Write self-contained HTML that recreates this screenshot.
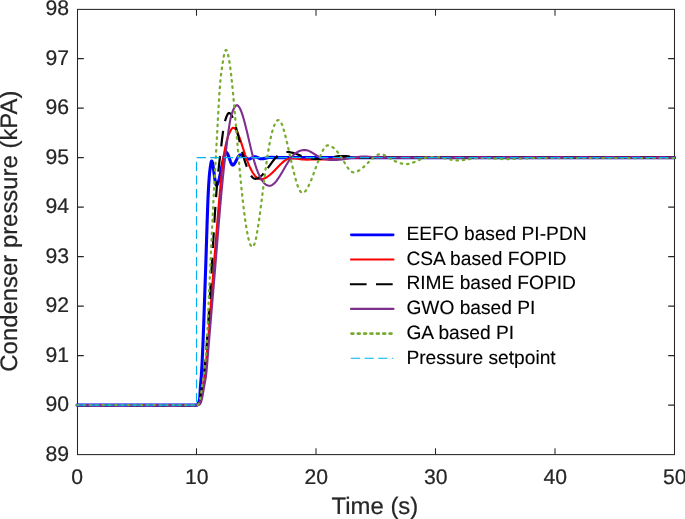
<!DOCTYPE html>
<html><head><meta charset="utf-8"><title>Condenser pressure response</title>
<style>
html,body{margin:0;padding:0;background:#fff;overflow:hidden;}
svg{display:block;will-change:transform;text-rendering:geometricPrecision;}
text{font-family:"Liberation Sans",Arial,Helvetica,sans-serif;}
</style></head>
<body>
<svg width="685" height="519" viewBox="0 0 685 519">
<rect width="685" height="519" fill="#ffffff"/>
<g fill="none" stroke="#262626" stroke-width="1.05">
<rect x="77.5" y="9.4" width="597.00" height="445.20"/>
<path d="M196.50,454.6 v-6.4 M196.50,9.4 v6.4"/>
<path d="M316.00,454.6 v-6.4 M316.00,9.4 v6.4"/>
<path d="M435.50,454.6 v-6.4 M435.50,9.4 v6.4"/>
<path d="M555.00,454.6 v-6.4 M555.00,9.4 v6.4"/>
<path d="M77.5,405.11 h6.3 M674.5,405.11 h-6.3"/>
<path d="M77.5,355.61 h6.3 M674.5,355.61 h-6.3"/>
<path d="M77.5,306.12 h6.3 M674.5,306.12 h-6.3"/>
<path d="M77.5,256.62 h6.3 M674.5,256.62 h-6.3"/>
<path d="M77.5,207.13 h6.3 M674.5,207.13 h-6.3"/>
<path d="M77.5,157.63 h6.3 M674.5,157.63 h-6.3"/>
<path d="M77.5,108.14 h6.3 M674.5,108.14 h-6.3"/>
<path d="M77.5,58.64 h6.3 M674.5,58.64 h-6.3"/>
</g>
<g fill="none" stroke-linejoin="round" stroke-linecap="butt">
<path d="M77.00,405.11 L197.10,405.11 L197.36,404.98 L197.64,404.60 L198.68,402.39 L199.06,401.41 L199.44,399.99 L199.74,398.29 L199.90,396.08 L200.30,388.50 L201.34,375.87 L202.00,364.65 L202.92,344.96 L203.78,322.64 L205.80,264.23 L207.22,219.56 L207.86,201.65 L208.26,192.63 L208.74,184.22 L209.24,176.87 L209.70,171.83 L210.48,165.90 L211.02,162.71 L211.26,161.75 L211.50,161.16 L211.60,161.04 L211.70,161.00 L211.95,161.20 L212.20,161.76 L212.45,162.65 L212.95,165.22 L213.45,168.57 L214.70,177.99 L215.45,182.63 L215.70,183.75 L215.95,184.58 L216.20,185.07 L216.45,185.20 L216.70,185.11 L216.95,184.91 L217.45,184.17 L217.95,183.05 L218.45,181.57 L219.20,178.83 L220.20,174.45 L222.70,162.33 L223.45,159.07 L223.95,157.15 L224.70,154.79 L225.20,153.62 L225.70,152.85 L225.95,152.62 L226.20,152.51 L226.45,152.52 L226.70,152.64 L226.95,152.86 L227.20,153.18 L227.70,154.05 L228.45,155.81 L230.45,161.52 L231.20,163.35 L231.70,164.27 L231.95,164.62 L232.20,164.88 L232.45,165.04 L232.70,165.10 L232.95,165.07 L233.45,164.82 L233.95,164.36 L234.45,163.73 L235.45,162.06 L237.45,158.13 L238.45,156.42 L238.95,155.75 L239.45,155.25 L239.95,154.96 L240.20,154.91 L240.70,154.93 L241.20,155.02 L242.20,155.40 L243.45,156.12 L245.70,157.68 L246.70,158.29 L247.45,158.66 L247.95,158.84 L248.45,158.95 L248.95,159.00 L249.45,158.96 L250.20,158.76 L250.95,158.44 L252.70,157.49 L253.45,157.13 L254.20,156.89 L254.95,156.80 L255.45,156.84 L256.20,157.01 L257.20,157.39 L259.70,158.49 L260.45,158.70 L261.20,158.80 L262.20,158.76 L263.20,158.63 L267.70,157.64 L268.95,157.46 L269.95,157.40 L279.95,157.63 L674.50,157.63" stroke-linecap="round" stroke="#0000ff" stroke-width="3.1"/>
<path d="M77.00,405.11 L197.12,405.11 L197.62,405.02 L198.16,404.77 L198.76,404.32 L199.22,403.83 L199.44,403.33 L199.68,402.57 L200.40,399.72 L201.28,395.10 L202.36,389.83 L203.10,385.38 L204.00,378.92 L205.04,370.55 L205.98,362.13 L206.94,352.70 L207.92,342.08 L208.98,329.31 L213.00,276.31 L217.90,215.15 L219.30,198.81 L221.44,175.23 L222.18,167.55 L222.80,161.95 L223.50,157.03 L224.24,152.72 L224.98,148.76 L226.20,143.03 L226.80,140.60 L227.40,138.43 L228.02,136.47 L228.62,134.87 L230.48,130.92 L231.16,129.69 L231.78,128.77 L232.34,128.15 L232.88,127.79 L233.30,127.70 L233.55,127.72 L234.05,127.88 L234.55,128.19 L235.30,128.91 L235.80,129.55 L236.55,130.75 L237.05,131.68 L237.80,133.26 L239.05,136.32 L240.30,139.80 L241.55,143.56 L245.05,154.53 L247.05,160.27 L248.30,163.50 L249.30,165.88 L250.55,168.58 L251.55,170.54 L252.80,172.71 L253.80,174.23 L255.05,175.85 L256.05,176.92 L257.30,177.98 L258.30,178.59 L259.30,178.99 L260.30,179.18 L261.05,179.19 L262.05,179.09 L262.80,178.93 L263.80,178.63 L264.80,178.23 L265.80,177.73 L266.80,177.15 L267.80,176.49 L268.80,175.75 L270.05,174.75 L272.30,172.73 L274.80,170.27 L280.80,164.10 L282.30,162.67 L283.80,161.38 L285.55,160.10 L287.05,159.25 L287.80,158.92 L288.55,158.67 L289.30,158.50 L290.05,158.41 L292.05,158.43 L294.30,158.55 L297.05,158.81 L302.05,159.44 L304.05,159.56 L306.30,159.59 L312.55,159.46 L322.55,159.36 L332.55,159.12 L339.30,158.79 L348.30,158.11 L351.80,157.90 L356.30,157.71 L361.05,157.64 L674.50,157.63" stroke="#ff0000" stroke-width="2.1" stroke-linecap="round"/>
<path d="M77.00,405.11 L197.10,405.11 L197.54,404.98 L198.12,404.58 L198.38,404.28 L198.66,403.79 L199.14,402.74 L199.58,401.43 L200.08,399.55 L200.48,397.70 L200.88,395.19 L201.80,388.50 L203.34,378.45 L204.04,373.03 L204.78,366.35 L205.52,358.81 L206.30,350.00 L207.28,337.24 L208.42,320.11 L212.18,259.11 L214.44,221.23 L215.40,206.18 L216.02,197.37 L216.60,190.00 L217.38,181.21 L218.22,172.67 L219.28,162.94 L222.10,138.75 L223.06,131.31 L223.90,125.89 L224.36,123.49 L224.80,121.67 L225.56,119.31 L226.32,117.15 L227.00,115.47 L227.60,114.28 L228.16,113.48 L228.44,113.22 L228.70,113.06 L228.94,113.00 L229.25,113.02 L229.50,113.09 L230.00,113.37 L230.50,113.81 L231.25,114.78 L232.00,116.09 L232.75,117.70 L233.50,119.59 L234.25,121.73 L235.50,125.76 L237.00,131.19 L241.75,150.07 L243.50,156.59 L244.50,159.98 L245.50,163.12 L246.50,165.99 L247.50,168.60 L248.50,170.93 L249.50,172.97 L250.50,174.72 L251.50,176.17 L252.50,177.31 L253.00,177.76 L253.50,178.13 L254.00,178.42 L254.50,178.63 L255.25,178.79 L256.00,178.78 L256.75,178.65 L257.50,178.42 L258.50,177.96 L259.25,177.51 L260.25,176.78 L261.25,175.93 L262.25,174.95 L264.00,173.00 L265.75,170.82 L266.00,170.49" stroke="#000000" stroke-width="2.2" stroke-dasharray="15.7 9.8" stroke-dashoffset="-23.86"/>
<path d="M266.00,170.49 L267.50,168.48 L271.75,162.62 L273.75,160.02 L275.00,158.52 L276.00,157.42 L276.75,156.66 L277.75,155.75 L278.75,154.94 L279.75,154.24 L280.75,153.64 L282.00,153.03 L283.00,152.65 L284.00,152.36 L285.00,152.16 L286.25,152.02 L287.75,152.02 L289.50,152.17 L291.25,152.48 L293.00,152.91 L294.75,153.43 L296.50,154.03 L304.25,156.92 L306.25,157.56 L308.00,158.02 L310.00,158.44 L312.00,158.73 L314.00,158.91 L316.00,158.99 L317.75,158.99 L319.75,158.91 L320.00,158.89" stroke="#000000" stroke-width="2.2" stroke-dasharray="15.7 9.8" stroke-dashoffset="-3.03"/>
<path d="M320.00,158.89 L323.75,158.56 L328.25,157.93 L335.00,156.72 L337.25,156.37 L339.75,156.09 L342.00,156.00 L343.75,156.04 L345.75,156.18 L348.25,156.45 L355.50,157.38 L357.75,157.56 L359.75,157.63 L674.50,157.63" stroke="#000000" stroke-width="2.2" stroke-dasharray="15.7 9.8" stroke-dashoffset="-14.36"/>
<path d="M77.00,405.11 L197.18,405.10 L197.72,405.06 L198.30,404.96 L199.50,404.55 L199.74,404.36 L199.98,404.09 L200.58,403.16 L201.02,402.09 L201.50,400.52 L202.08,398.27 L202.50,396.23 L203.82,388.39 L205.50,379.16 L206.10,375.00 L206.52,371.23 L207.06,365.25 L208.14,351.89 L215.22,267.36 L218.74,223.98 L220.20,206.58 L221.36,193.61 L222.72,179.46 L223.82,168.72 L224.76,160.39 L227.22,140.70 L228.44,131.48 L229.60,123.72 L230.14,120.59 L230.66,117.93 L231.20,115.58 L231.72,113.78 L232.48,111.81 L233.46,109.50 L234.28,107.82 L235.02,106.58 L235.70,105.75 L236.04,105.47 L236.36,105.29 L236.70,105.20 L237.05,105.22 L237.30,105.29 L237.80,105.55 L238.55,106.24 L239.30,107.28 L240.05,108.64 L240.80,110.29 L241.55,112.21 L242.55,115.14 L244.05,120.22 L245.55,125.93 L247.05,132.09 L251.05,149.12 L252.30,154.18 L253.30,158.00 L254.30,161.57 L255.55,165.64 L256.55,168.59 L257.80,171.93 L259.05,174.88 L260.30,177.44 L261.55,179.64 L262.30,180.79 L263.05,181.81 L264.30,183.24 L265.05,183.94 L265.80,184.52 L266.55,185.00 L267.30,185.36 L268.05,185.61 L268.80,185.76 L269.80,185.79 L270.55,185.67 L271.30,185.42 L272.30,184.91 L273.30,184.21 L274.30,183.33 L275.30,182.28 L276.30,181.10 L278.05,178.72 L280.05,175.65 L281.80,172.75 L286.30,165.03 L288.80,161.01 L290.05,159.17 L291.05,157.83 L292.05,156.60 L293.30,155.24 L294.55,154.07 L295.80,153.08 L297.05,152.25 L298.30,151.57 L299.55,151.04 L301.05,150.57 L302.30,150.31 L303.80,150.14 L305.30,150.11 L306.55,150.25 L307.80,150.56 L309.30,151.13 L310.55,151.74 L312.05,152.58 L317.05,155.76 L318.80,156.81 L320.55,157.70 L322.55,158.50 L324.80,159.15 L327.05,159.57 L329.55,159.85 L332.55,159.98 L336.30,159.99 L339.05,159.82 L342.30,159.37 L350.05,157.92 L354.05,157.33 L356.80,157.02 L359.55,156.79 L362.05,156.66 L364.55,156.60 L366.80,156.62 L369.05,156.71 L380.05,157.47 L382.55,157.59 L384.80,157.63 L674.50,157.63" stroke="#7e2f8e" stroke-width="2.1" stroke-linecap="round"/>
<path d="M77.00,405.11 L197.12,405.11 L197.34,405.07 L197.60,404.95 L198.22,404.49 L198.58,403.94 L199.04,402.98 L199.42,401.94 L199.82,400.57 L200.30,398.60 L200.54,397.37 L200.92,394.91 L201.78,388.64 L203.48,377.44 L204.32,370.73 L205.06,364.04 L205.70,357.34 L206.28,350.26 L206.86,341.37 L207.50,329.06 L209.92,273.81 L213.56,198.49 L214.62,178.45 L216.36,147.77 L218.22,113.38 L219.32,94.88 L220.00,85.29 L220.62,78.30 L221.00,75.00 L222.48,64.16 L223.46,57.99 L223.90,55.65 L224.32,53.73 L224.72,52.23 L225.12,51.08 L225.50,50.36 L225.68,50.15 L225.86,50.03 L226.00,50.00 L226.25,50.07 L226.50,50.28 L226.75,50.62 L227.25,51.68 L227.75,53.24 L228.50,56.46 L229.00,59.14 L229.75,63.91 L230.50,69.50 L231.25,75.81 L232.50,87.71 L233.75,100.97 L235.25,118.09 L238.50,156.48 L240.50,178.50 L241.75,191.05 L242.75,200.36 L243.75,208.95 L244.75,216.80 L245.75,223.84 L246.75,230.04 L247.75,235.35 L248.50,238.72 L249.00,240.66 L249.50,242.36 L250.00,243.80 L250.50,244.98 L251.00,245.90 L251.50,246.54 L252.00,246.91 L252.25,246.99 L252.50,246.99 L252.75,246.91 L253.00,246.73 L253.50,246.10 L254.00,245.13 L254.75,243.07 L255.25,241.31 L256.00,238.16 L256.75,234.44 L257.50,230.22 L258.75,222.22 L260.25,211.39 L264.75,175.63 L266.50,162.48 L267.50,155.65 L268.25,150.92 L269.25,145.15 L270.25,140.00 L271.25,135.44 L272.25,131.49 L273.25,128.13 L274.25,125.36 L274.75,124.19 L275.25,123.17 L275.75,122.29 L276.25,121.55 L276.75,120.96 L277.25,120.51 L277.75,120.20 L278.25,120.03 L278.75,120.01 L279.25,120.18 L279.75,120.56 L280.50,121.50 L281.00,122.35 L281.75,123.94 L282.25,125.19 L283.00,127.33 L284.25,131.50 L285.75,137.30 L287.00,142.58 L290.25,156.98 L293.00,168.81 L294.75,175.85 L296.25,181.27 L297.25,184.46 L298.00,186.59 L298.75,188.45 L299.50,190.02 L300.25,191.28 L301.00,192.20 L301.50,192.61 L301.75,192.75 L302.25,192.89 L302.75,192.87 L303.50,192.65 L304.25,192.20 L305.00,191.55 L305.75,190.70 L306.50,189.67 L307.25,188.48 L308.00,187.14 L309.50,184.07 L311.25,179.93 L313.25,174.72 L317.00,164.41 L318.50,160.42 L320.25,156.06 L321.75,152.65 L322.50,151.11 L323.25,149.71 L324.00,148.47 L324.75,147.41 L325.50,146.55 L326.25,145.91 L327.00,145.52 L327.50,145.41 L328.50,145.45 L329.50,145.64 L330.50,145.98 L331.50,146.46 L332.50,147.07 L333.50,147.80 L334.50,148.66 L335.50,149.64 L336.50,150.73 L337.50,151.92 L338.50,153.21 L339.75,154.96 L341.75,158.04 L346.25,165.48 L347.50,167.37 L348.75,169.04 L350.00,170.44 L350.75,171.12 L351.25,171.50 L352.00,171.93 L352.50,172.13 L353.00,172.26 L353.50,172.30 L354.25,172.26 L355.00,172.15 L355.75,171.98 L356.50,171.74 L358.00,171.08 L359.75,170.04 L361.75,168.57 L363.75,166.87 L366.00,164.76 L371.50,159.37 L373.25,157.76 L374.50,156.73 L376.00,155.70 L377.50,154.91 L378.25,154.62 L379.00,154.41 L379.75,154.27 L380.50,154.20 L381.50,154.25 L382.50,154.45 L383.50,154.77 L384.50,155.20 L386.25,156.14 L390.25,158.57 L392.75,159.99 L395.25,161.26 L397.75,162.34 L400.00,163.12 L402.00,163.63 L404.00,163.97 L406.00,164.10 L407.25,164.06 L408.75,163.86 L410.25,163.53 L411.75,163.08 L414.50,162.04 L421.25,159.11 L423.00,158.45 L424.50,157.99 L425.75,157.68 L427.25,157.43 L428.75,157.29 L430.50,157.21 L433.50,157.20 L435.75,157.25 L438.00,157.38 L440.25,157.60 L442.00,157.85 L443.75,158.15 L450.50,159.55 L453.25,160.05 L456.00,160.39 L458.50,160.50 L460.50,160.42 L462.50,160.21 L465.00,159.82 L470.25,158.80 L472.50,158.42 L475.00,158.11 L477.25,158.00 L482.75,158.02 L486.50,158.11 L489.00,158.23 L499.00,158.90 L502.75,159.05 L506.00,159.10 L509.75,159.06 L514.00,158.93 L531.25,158.16 L539.75,158.00 L559.75,158.08 L674.50,158.08" stroke="#77ac30" stroke-width="2.25" stroke-linecap="round" stroke-dasharray="1.5 4.86" stroke-dashoffset="-0.09"/>
<path d="M77.0,405.11 L196.50,405.11 L196.50,157.63 L674.5,157.63" stroke="#00b0f0" stroke-width="1.1" stroke-dasharray="9.2 4.4"/>
</g>
<g font-size="21.2" fill="#262626" stroke="#262626" stroke-width="0.22" stroke-linejoin="round">
<text x="77.20" y="483.7" text-anchor="middle">0</text>
<text x="196.70" y="483.7" text-anchor="middle">10</text>
<text x="316.20" y="483.7" text-anchor="middle">20</text>
<text x="435.70" y="483.7" text-anchor="middle">30</text>
<text x="555.20" y="483.7" text-anchor="middle">40</text>
<text x="674.70" y="483.7" text-anchor="middle">50</text>
<text x="69.05" y="460.90" text-anchor="end">89</text>
<text x="69.05" y="411.41" text-anchor="end">90</text>
<text x="69.05" y="361.91" text-anchor="end">91</text>
<text x="69.05" y="312.42" text-anchor="end">92</text>
<text x="69.05" y="262.92" text-anchor="end">93</text>
<text x="69.05" y="213.43" text-anchor="end">94</text>
<text x="69.05" y="163.93" text-anchor="end">95</text>
<text x="69.05" y="114.44" text-anchor="end">96</text>
<text x="69.05" y="64.94" text-anchor="end">97</text>
<text x="69.05" y="15.45" text-anchor="end">98</text>
</g>
<g font-size="23.9" fill="#262626" stroke="#262626" stroke-width="0.22" stroke-linejoin="round">
<text x="374.9" y="514.0" text-anchor="middle">Time (s)</text>
<text transform="translate(17.45,231.1) rotate(-90)" text-anchor="middle">Condenser pressure (kPA)</text>
</g>
<g font-size="19.2" fill="#000000" stroke="#000000" stroke-width="0.12" stroke-linejoin="round">
<path d="M351.3,234.80 H393.2" fill="none" stroke="#0000ff" stroke-width="2.7" stroke-linecap="round"/>
<text x="406.4" y="240.05">EEFO based PI-PDN</text>
<path d="M351.0,259.50 H393.5" fill="none" stroke="#ff0000" stroke-width="2.1" stroke-linecap="round"/>
<text x="406.4" y="264.75">CSA based FOPID</text>
<path d="M349.9,284.20 H393.1" fill="none" stroke="#000000" stroke-width="2.1" stroke-dasharray="16.7 9.4"/>
<text x="406.4" y="289.45">RIME based FOPID</text>
<path d="M351.0,308.90 H393.5" fill="none" stroke="#7e2f8e" stroke-width="2.1" stroke-linecap="round"/>
<text x="406.4" y="314.15">GWO based PI</text>
<path d="M351.0,333.60 H393.4" fill="none" stroke="#77ac30" stroke-width="2.55" stroke-linecap="round" stroke-dasharray="2.0 4.36" stroke-dashoffset="-0.4"/>
<text x="406.4" y="338.85">GA based PI</text>
<path d="M350.8,358.30 H393.2" fill="none" stroke="#00b0f0" stroke-width="1.05" stroke-dasharray="9.3 4.4"/>
<text x="406.4" y="363.55">Pressure setpoint</text>
</g>
</svg>
</body></html>
